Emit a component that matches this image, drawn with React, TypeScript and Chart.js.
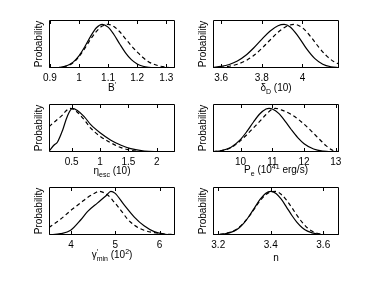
import { useEffect, useRef } from 'react';
import { Chart, registerables } from 'chart.js';

Chart.register(...registerables);

const FONT = "'Liberation Sans', Arial, Helvetica, sans-serif";

// ---------- Tick labels ----------
const bTicks = [0.9, 1, 1.1, 1.2, 1.3];
const dTicks = [3.6, 3.8, 4];
const eTicks = [0.5, 1, 1.5, 2];
const pTicks = [10, 11, 12, 13];
const gTicks = [4, 5, 6];
const nTicks = [3.2, 3.4, 3.6];

// ---------- Panel 1: B' ----------
const bSolidX = [0.897, 0.93, 0.96, 0.98, 1.0, 1.02, 1.04, 1.06, 1.08, 1.1, 1.12, 1.14, 1.16, 1.18, 1.2, 1.22, 1.24, 1.26, 1.28, 1.3, 1.33];
const bSolid = [0.0, 0.011, 0.056, 0.135, 0.278, 0.487, 0.726, 0.923, 1.0, 0.936, 0.768, 0.551, 0.347, 0.191, 0.093, 0.039, 0.015, 0.005, 0.002, 0.0, 0.0];
const bDashX = [0.897, 0.93, 0.96, 0.98, 1.0, 1.02, 1.04, 1.06, 1.08, 1.1, 1.12, 1.14, 1.16, 1.18, 1.2, 1.22, 1.24, 1.26, 1.28, 1.3, 1.33];
const bDash = [0.0, 0.01, 0.05, 0.12, 0.26, 0.45, 0.66, 0.84, 0.96, 1.0, 0.95, 0.83, 0.67, 0.51, 0.37, 0.24, 0.14, 0.08, 0.04, 0.02, 0.005];

// ---------- Panel 2: delta_D ----------
const dSolidX = [3.56, 3.6, 3.64, 3.68, 3.72, 3.76, 3.8, 3.84, 3.88, 3.91, 3.94, 3.98, 4.02, 4.06, 4.1, 4.14, 4.18];
const dSolid = [0.014, 0.036, 0.08, 0.159, 0.285, 0.458, 0.657, 0.844, 0.969, 1.0, 0.94, 0.72, 0.443, 0.22, 0.088, 0.028, 0.007];
const dDashX = [3.56, 3.6, 3.64, 3.68, 3.72, 3.76, 3.8, 3.84, 3.88, 3.92, 3.96, 4.0, 4.04, 4.08, 4.12, 4.16, 4.18];
const dDash = [0.007, 0.017, 0.04, 0.086, 0.164, 0.285, 0.448, 0.637, 0.818, 0.951, 1.0, 0.922, 0.723, 0.481, 0.273, 0.131, 0.093];

// ---------- Panel 3: eta_esc ----------
const eSolidX = [0.1, 0.19, 0.25, 0.34, 0.42, 0.51, 0.6, 0.72, 0.84, 1.0, 1.19, 1.37, 1.54, 1.78, 2.01, 2.32];
const eSolid = [0.02, 0.16, 0.23, 0.5, 0.81, 1.0, 0.95, 0.81, 0.62, 0.44, 0.27, 0.155, 0.077, 0.023, 0.008, 0.0];
const eDashX = [0.1, 0.18, 0.25, 0.34, 0.39, 0.47, 0.54, 0.6, 0.72, 0.84, 1.0, 1.19, 1.37, 1.54, 1.78, 2.01, 2.32];
const eDash = [0.58, 0.67, 0.75, 0.85, 0.93, 1.0, 0.97, 0.91, 0.74, 0.54, 0.36, 0.21, 0.1, 0.04, 0.008, 0.0, 0.0];

// ---------- Panel 4: P_e ----------
const pSolidX = [9.13, 9.4, 9.7, 10.0, 10.2, 10.4, 10.6, 10.8, 10.9, 11.0, 11.2, 11.4, 11.6, 11.8, 12.0, 12.3, 12.6, 12.9, 13.1];
const pSolid = [0.008, 0.032, 0.111, 0.29, 0.473, 0.682, 0.871, 0.985, 1.0, 0.986, 0.884, 0.71, 0.51, 0.329, 0.19, 0.068, 0.019, 0.004, 0.001];
const pDashX = [9.13, 9.4, 9.7, 10.0, 10.2, 10.4, 10.6, 10.8, 11.0, 11.1, 11.3, 11.6, 11.9, 12.2, 12.5, 12.7, 12.9, 13.1];
const pDash = [0.01, 0.03, 0.1, 0.26, 0.4, 0.55, 0.7, 0.86, 0.98, 1.0, 0.96, 0.86, 0.7, 0.5, 0.28, 0.14, 0.04, 0.005];

// ---------- Panel 5: gamma'_min ----------
const gSolidX = [3.5, 3.76, 3.99, 4.22, 4.37, 4.6, 4.79, 4.9, 4.99, 5.2, 5.43, 5.65, 5.88, 6.1, 6.35];
const gSolid = [0.0, 0.03, 0.108, 0.349, 0.535, 0.736, 0.9, 1.0, 0.96, 0.69, 0.41, 0.21, 0.077, 0.023, 0.0];
const gDashX = [3.5, 3.76, 3.99, 4.22, 4.37, 4.52, 4.63, 4.82, 4.97, 5.13, 5.28, 5.43, 5.65, 5.88, 6.1, 6.35];
const gDash = [0.17, 0.36, 0.56, 0.74, 0.86, 0.95, 1.0, 0.92, 0.76, 0.56, 0.36, 0.225, 0.108, 0.054, 0.023, 0.008];

// ---------- Panel 6: n ----------
const nSolidX = [3.18, 3.22, 3.26, 3.28, 3.3, 3.32, 3.34, 3.36, 3.38, 3.4, 3.42, 3.44, 3.46, 3.48, 3.5, 3.52, 3.54, 3.58, 3.62, 3.66];
const nSolid = [0.002, 0.018, 0.088, 0.168, 0.29, 0.453, 0.64, 0.82, 0.952, 1.0, 0.952, 0.82, 0.64, 0.453, 0.29, 0.168, 0.088, 0.018, 0.0025, 0.0];
const nDashX = [3.18, 3.22, 3.26, 3.28, 3.3, 3.32, 3.34, 3.36, 3.38, 3.4, 3.42, 3.44, 3.46, 3.48, 3.5, 3.52, 3.54, 3.56, 3.58, 3.62, 3.66];
const nDash = [0.003, 0.025, 0.1, 0.18, 0.3, 0.45, 0.62, 0.79, 0.92, 0.99, 1.0, 0.93, 0.8, 0.63, 0.45, 0.29, 0.16, 0.08, 0.035, 0.005, 0.0];

type Seg = { t?: string; sub?: string; sup?: string };

interface PanelDef {
  left: number; top: number; w: number; h: number;
  min: number; max: number; ticks: number[];
  sx: number[]; sy: number[]; dx: number[]; dy: number[];
  title: Seg[]; titleOff: number;
}

const COLS = [49, 213];
const ROWS = [20, 104, 187];
const BW = 126;
const BH = 48;

const panels: PanelDef[] = [
  { left: COLS[0], top: ROWS[0], w: BW, h: BH, min: 0.897, max: 1.33, ticks: bTicks, sx: bSolidX, sy: bSolid, dx: bDashX, dy: bDash,
    title: [{ t: 'B' }, { sup: '′' }], titleOff: 23 },
  { left: COLS[1], top: ROWS[0], w: BW, h: BH, min: 3.56, max: 4.18, ticks: dTicks, sx: dSolidX, sy: dSolid, dx: dDashX, dy: dDash,
    title: [{ t: 'δ' }, { sub: 'D' }, { t: ' (10)' }], titleOff: 23 },
  { left: COLS[0], top: ROWS[1], w: BW, h: BH, min: 0.1, max: 2.32, ticks: eTicks, sx: eSolidX, sy: eSolid, dx: eDashX, dy: eDash,
    title: [{ t: 'η' }, { sub: 'esc' }, { t: ' (10)' }], titleOff: 22 },
  { left: COLS[1], top: ROWS[1], w: BW, h: BH, min: 9.13, max: 13.1, ticks: pTicks, sx: pSolidX, sy: pSolid, dx: pDashX, dy: pDash,
    title: [{ t: 'P' }, { sub: 'e' }, { t: ' (10' }, { sup: '41' }, { t: ' erg/s)' }], titleOff: 21 },
  { left: COLS[0], top: ROWS[2], w: BW, h: BH, min: 3.5, max: 6.35, ticks: gTicks, sx: gSolidX, sy: gSolid, dx: gDashX, dy: gDash,
    title: [{ t: 'γ' }, { sup: '′', sub: 'min' }, { t: ' (10' }, { sup: '2' }, { t: ')' }], titleOff: 23 },
  { left: COLS[1], top: ROWS[2], w: BW, h: BH, min: 3.18, max: 3.66, ticks: nTicks, sx: nSolidX, sy: nSolid, dx: nDashX, dy: nDash,
    title: [{ t: 'n' }], titleOff: 26 },
];

const LY = 16;  // y-axis strip width (holds "Probability")
const PT = 4;   // padding above box
const PR = 12;  // padding right of box
const HX = 32;  // x-axis strip height

function drawRich(ctx: CanvasRenderingContext2D, segs: Seg[], cx: number, baseline: number) {
  const big = `10px ${FONT}`;
  const small = `7px ${FONT}`;
  const widths = segs.map((s) => {
    if (s.t !== undefined) { ctx.font = big; return ctx.measureText(s.t).width; }
    ctx.font = small;
    const a = s.sub ? ctx.measureText(s.sub).width : 0;
    const b = s.sup ? ctx.measureText(s.sup).width : 0;
    return Math.max(a, b);
  });
  const total = widths.reduce((a, b) => a + b, 0);
  let x = cx - total / 2;
  ctx.fillStyle = '#000';
  ctx.textAlign = 'left';
  ctx.textBaseline = 'alphabetic';
  segs.forEach((s, i) => {
    if (s.t !== undefined) {
      ctx.font = big;
      ctx.fillText(s.t, x, baseline);
    } else {
      ctx.font = small;
      if (s.sub) ctx.fillText(s.sub, x, baseline + 3);
      if (s.sup) ctx.fillText(s.sup, x, baseline - 4.5);
    }
    x += widths[i];
  });
}

function Panel({ p }: { p: PanelDef }) {
  const ref = useRef<HTMLCanvasElement>(null);
  const W = LY + p.w + PR;
  const H = PT + p.h + HX;

  useEffect(() => {
    const frame = {
      id: 'frame',
      afterDraw(chart: any) {
        const { ctx, chartArea } = chart;
        const { left, top, right, bottom } = chartArea;
        const xs = chart.scales.x;
        ctx.save();
        ctx.strokeStyle = '#000';
        ctx.lineWidth = 1;
        ctx.beginPath();
        ctx.rect(left + 0.5, top + 0.5, right - left - 1, bottom - top - 1);
        for (const t of xs.ticks) {
          const px = Math.round(xs.getPixelForValue(t.value)) + 0.5;
          ctx.moveTo(px, bottom - 1);
          ctx.lineTo(px, bottom - 4);
          ctx.moveTo(px, top + 1);
          ctx.lineTo(px, top + 4);
        }
        ctx.stroke();
        drawRich(ctx, p.title, (left + right) / 2, bottom + p.titleOff);
        ctx.restore();
      },
    };

    const chart = new Chart(ref.current as HTMLCanvasElement, {
      type: 'line',
      data: {
        datasets: [
          {
            data: p.sx.map((x, i) => ({ x, y: p.sy[i] })),
            borderColor: '#000',
            borderWidth: 1.2,
            pointRadius: 0,
            cubicInterpolationMode: 'monotone',
            fill: false,
          },
          {
            data: p.dx.map((x, i) => ({ x, y: p.dy[i] })),
            borderColor: '#000',
            borderWidth: 1.2,
            borderDash: [4, 3],
            pointRadius: 0,
            cubicInterpolationMode: 'monotone',
            fill: false,
          },
        ],
      },
      options: {
        animation: false,
        responsive: false,
        maintainAspectRatio: false,
        devicePixelRatio: 1,
        events: [],
        layout: { padding: { left: 0, top: PT, right: PR, bottom: 0 } },
        plugins: { legend: { display: false }, tooltip: { enabled: false } },
        scales: {
          x: {
            type: 'linear',
            min: p.min,
            max: p.max,
            afterBuildTicks: (s: any) => { s.ticks = p.ticks.map((v) => ({ value: v })); },
            afterFit: (s: any) => { s.height = HX; },
            grid: { display: false, drawTicks: false, tickLength: 0 },
            border: { display: false },
            ticks: {
              callback: (v: any) => String(v),
              font: { family: FONT, size: 10 },
              color: '#000',
              padding: 4,
              maxRotation: 0,
              autoSkip: false,
            },
          },
          y: {
            min: 0,
            max: 1.1,
            afterFit: (s: any) => { s.width = LY; },
            ticks: { display: false },
            grid: { display: false, drawTicks: false },
            border: { display: false },
            title: { display: true, text: 'Probability', font: { family: FONT, size: 10 }, color: '#000', padding: 0 },
          },
        },
      } as any,
      plugins: [frame],
    });
    return () => chart.destroy();
  }, []);

  return (
    <canvas
      ref={ref}
      width={W}
      height={H}
      style={{ position: 'absolute', left: p.left - LY, top: p.top - PT, width: W, height: H }}
    />
  );
}

export default function App() {
  return (
    <div style={{ position: 'absolute', left: 0, top: 0, width: 374, height: 281, background: '#fff', overflow: 'hidden' }}>
      {panels.map((p, i) => (
        <Panel key={i} p={p} />
      ))}
    </div>
  );
}
